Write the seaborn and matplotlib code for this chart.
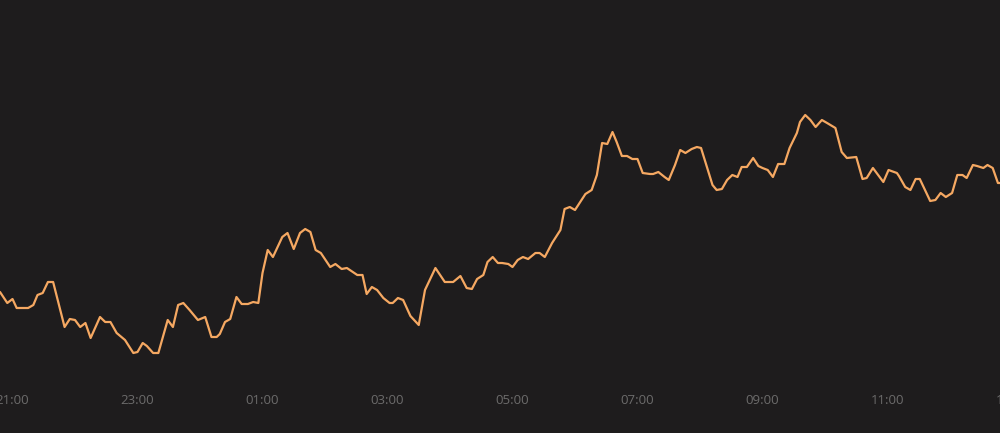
import matplotlib
matplotlib.use("Agg")
import matplotlib.pyplot as plt
import matplotlib.dates as mdates
import seaborn as sns
import pandas as pd

times = [
    "20:48", "20:55", "21:00", "21:04", "21:15", "21:20", "21:24", "21:29", "21:34", "21:39",
    "21:50", "21:55", "22:00", "22:05", "22:10", "22:15", "22:24", "22:29", "22:34", "22:40",
    "22:48", "22:56", "23:00", "23:05", "23:09", "23:15", "23:20", "23:29", "23:34", "23:39",
    "23:44", "23:50", "23:58", "00:05", "00:11", "00:16", "00:19", "00:24", "00:29", "00:35",
    "00:40", "00:46", "00:51", "00:56", "01:00", "01:05", "01:10", "01:19", "01:24", "01:30",
    "01:36", "01:41", "01:46", "01:51", "01:56", "02:05", "02:10", "02:16", "02:21", "02:31",
    "02:36", "02:40", "02:45", "02:50", "02:56", "03:02", "03:05", "03:10", "03:15", "03:22",
    "03:30", "03:36", "03:46", "03:55", "04:03", "04:10", "04:16", "04:21", "04:26", "04:32",
    "04:36", "04:41", "04:46", "04:50", "04:56", "05:00", "05:05", "05:10", "05:15", "05:22",
    "05:26", "05:31", "05:38", "05:43", "05:46", "05:50", "05:55", "06:00", "06:05", "06:10",
    "06:16", "06:21", "06:26", "06:31", "06:36", "06:40", "06:45", "06:50", "06:55", "07:00",
    "07:05", "07:12", "07:15", "07:20", "07:26", "07:30", "07:36", "07:41", "07:46", "07:52",
    "07:57", "08:01", "08:07", "08:12", "08:16", "08:21", "08:26", "08:31", "08:36", "08:40",
    "08:45", "08:51", "08:56", "09:00", "09:05", "09:10", "09:15", "09:21", "09:26", "09:33",
    "09:36", "09:41", "09:46", "09:51", "09:57", "10:02", "10:10", "10:16", "10:21", "10:30",
    "10:36", "10:40", "10:46", "10:56", "11:01", "11:09", "11:11", "11:17", "11:22", "11:27",
    "11:31", "11:41", "11:46", "11:51", "11:56", "12:02", "12:07", "12:12", "12:16", "12:22",
    "12:26", "12:32", "12:36", "12:41", "12:46", "12:48",
]

values = [
    141, 130, 134, 125, 125, 128, 138, 140, 151, 151,
    106, 114, 113, 106, 110, 95, 116, 111, 111, 100,
    93, 80, 81, 90, 87, 80, 80, 113, 106, 128,
    130, 123, 113, 116, 96, 96, 99, 111, 114, 136,
    129, 129, 131, 130, 160, 183, 176, 196, 200, 184,
    200, 204, 201, 183, 180, 166, 169, 164, 165, 158,
    158, 139, 146, 143, 135, 130, 130, 135, 133, 117,
    108, 143, 165, 151, 151, 157, 145, 144, 154, 158,
    171, 176, 170, 170, 169, 166, 173, 176, 174, 180,
    180, 176, 190, 198, 203, 224, 226, 223, 231, 239,
    243, 258, 290, 289, 301, 291, 277, 277, 274, 274,
    260, 259, 259, 261, 256, 253, 268, 283, 280, 284,
    286, 285, 265, 248, 243, 244, 253, 258, 256, 266,
    266, 275, 267, 265, 263, 256, 269, 269, 285, 300,
    311, 318, 313, 306, 313, 310, 305, 281, 275, 276,
    254, 255, 265, 251, 263, 260, 257, 246, 243, 254,
    254, 232, 233, 240, 236, 240, 258, 258, 255, 268,
    267, 265, 268, 265, 250, 250,
]

# label whose tick sits just past the right edge (partly visible in the reference)
edge_label = "13:00"

assert len(times) == len(values)

stamps = []
for t in times:
    ts = pd.Timestamp(f"2024-01-01 {t}")
    if ts.hour < 20:
        ts = ts + pd.Timedelta(days=1)
    stamps.append(ts)
df = pd.DataFrame({"time": stamps, "value": values})

BG = "#1e1c1d"
LINE = "#f5a862"
TXT = "#6c6b6b"

sns.set_style("dark")
plt.rcParams["font.family"] = ["Open Sans", "DejaVu Sans"]

fig = plt.figure(figsize=(10, 4.33), dpi=100)
fig.patch.set_facecolor(BG)
ax = fig.add_axes([0, 48 / 433, 1, 1 - 48 / 433])
ax.set_facecolor(BG)

sns.lineplot(data=df, x="time", y="value", ax=ax, color=LINE, linewidth=1.6)

ax.set_xlim(pd.Timestamp("2024-01-01 20:48"), pd.Timestamp("2024-01-02 12:48"))
ax.set_ylim(48, 433)

ax.xaxis.set_major_locator(mdates.HourLocator(byhour=range(1, 24, 2)))
ax.xaxis.set_major_formatter(mdates.DateFormatter("%H:%M"))
ax.tick_params(axis="x", length=0, pad=6.5, labelsize=9.5, labelcolor=TXT)

# the next hour label, beyond the visible range, cut by the right edge
ax.annotate(edge_label,
            xy=(mdates.date2num(pd.Timestamp(f"2024-01-02 {edge_label}")), 0),
            xycoords=ax.get_xaxis_transform(),
            xytext=(0, -6.5), textcoords="offset points",
            ha="center", va="top", fontsize=9.5, color=TXT,
            annotation_clip=False)

ax.set_yticks([])
ax.set_xlabel("")
ax.set_ylabel("")
ax.grid(False)
for s in ax.spines.values():
    s.set_visible(False)

fig.savefig("out.png", dpi=100, facecolor=BG)
